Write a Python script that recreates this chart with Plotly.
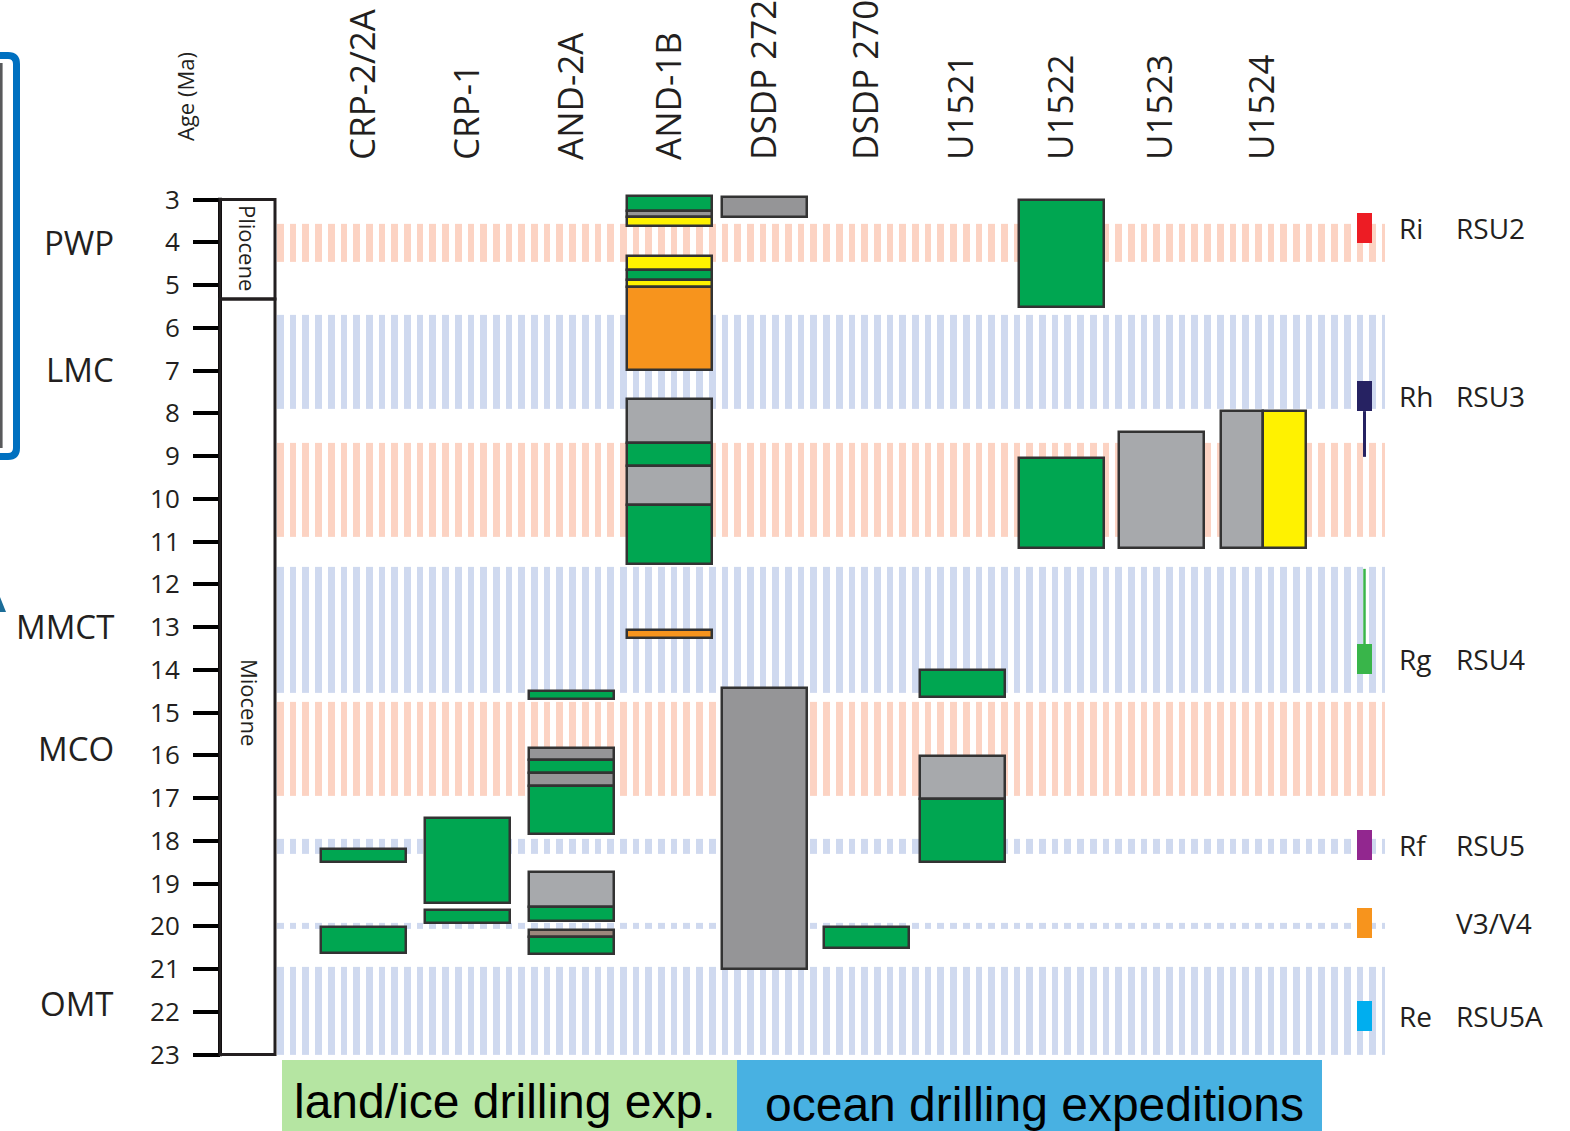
import numpy as np
import plotly.graph_objects as go

W, H = 1570, 1131

# ---------------------------------------------------------------- data
sites = ["CRP-2/2A", "CRP-1", "AND-2A", "AND-1B", "DSDP 272",
         "DSDP 270", "U1521", "U1522", "U1523", "U1524"]

# recovered intervals per site (ages in Ma) and their facies class
iv_site = (["CRP-2/2A"] * 2 + ["CRP-1"] * 2 + ["AND-2A"] * 9 + ["AND-1B"] * 12
           + ["DSDP 272"] * 2 + ["DSDP 270"] + ["U1521"] * 3 + ["U1522"] * 2
           + ["U1523"] + ["U1524"] * 2)
iv_top = [18.20, 20.02,
          17.46, 19.61,
          14.50, 15.83, 16.11, 16.41, 16.72, 18.72, 19.56, 20.08, 20.24,
          2.92, 3.26, 3.42, 4.33, 4.64, 4.89, 5.05, 7.67, 8.70, 9.24, 10.15, 13.07,
          2.95, 14.43,
          20.01,
          14.01, 16.02, 17.03,
          3.01, 9.05,
          8.44,
          7.95, 7.95]
iv_base = [18.50, 20.63,
           19.45, 19.93,
           14.69, 16.11, 16.41, 16.72, 17.84, 19.56, 19.87, 20.24, 20.66,
           3.26, 3.42, 3.62, 4.64, 4.89, 5.05, 6.99, 8.70, 9.24, 10.15, 11.53, 13.25,
           3.40, 21.01,
           20.52,
           14.64, 17.03, 18.49,
           5.51, 11.15,
           11.15,
           11.15, 11.15]
iv_facies = ["green", "green",
             "green", "green",
             "green", "dgrey", "green", "dgrey", "green", "grey", "green", "brown", "green",
             "green", "dgrey", "yellow", "yellow", "green", "yellow", "orange",
             "grey", "green", "grey", "green", "orange",
             "dgrey", "dgrey",
             "green",
             "green", "grey", "green",
             "green", "green",
             "grey",
             "grey", "yellow"]

# warm (pink) and cool (blue) climate intervals, Ma
band_top = [3.57, 5.70, 8.70, 11.60, 14.75, 17.95, 19.92, 20.94]
band_base = [4.46, 7.90, 10.90, 14.55, 16.95, 18.31, 20.06, 23.00]
band_kind = ["warm", "cool", "warm", "cool", "warm", "cool", "cool", "cool"]

# climate events on the left margin
event_name = ["PWP", "LMC", "MMCT", "MCO", "OMT"]
event_age = [4.0, 6.97, 12.98, 15.84, 21.8]

# seismic reflectors / units on the right margin
refl_name = ["Ri", "Rh", "Rg", "Rf", "", "Re"]
refl_unit = ["RSU2", "RSU3", "RSU4", "RSU5", "V3/V4", "RSU5A"]
refl_age = [3.67, 7.60, 13.75, 18.10, 19.93, 22.11]
refl_span_from = [None, 7.95, 11.64, None, None, None]
refl_span_to = [None, 9.02, 13.40, None, None, None]

epoch_name = ["Pliocene", "Miocene"]
epoch_top = [3.0, 5.33]
epoch_base = [5.33, 23.0]

age_ticks = list(range(3, 24))

# ---------------------------------------------------------------- styles
FACIES_COLOR = {"green": "#00a651", "grey": "#a7a9ac", "dgrey": "#959597",
                "yellow": "#fff200", "orange": "#f7941d", "brown": "#9b877c"}
REFL_COLOR = ["#ed1c24", "#262262", "#39b54a", "#92278f", "#f7941d", "#00aeef"]
WARM, COOL = "#fcd3c3", "#cfd9ef"
TXT = "#231f20"
FONT = "Open Sans"

# x axis is laid out in page pixels; column centres
COL_X = [363.5, 467.5, 571.5, 669.5, 764.5, 866.5, 962, 1061.5, 1161, 1263]
COL_W = 85
REFL_X, REFL_W, REFL_H = 1364.5, 15, 0.70
AXIS_X, TICK_LEN, EPOCH_X1 = 220, 27, 275

# age axis mapping (tick 3 at y=199.5 px, 42.75 px per Ma)
PX0, PPM = 199.5, 42.75
Y_TOP = 3 - PX0 / PPM
Y_BOT = 3 + (H - PX0) / PPM

fig = go.Figure()

# ---------------------------------------------------------------- hatched climate bands
s0, s1, period, sw = 277.0, 1385.0, 12.7, 6.7
xe = []
for s in np.arange(s0, s1, period):
    if s >= s1 - 0.5:
        break
    xe += [s, min(s + sw, s1)]
ncol = len(xe) - 1
ye, zrows = [], []
for i, (t, b, k) in enumerate(zip(band_top, band_base, band_kind)):
    if i > 0:
        zrows.append([None] * ncol)  # gap between bands
    ye += [t, b] if i == 0 else [b]
    if i > 0:
        ye.insert(len(ye) - 1, t)
    v = 0 if k == "warm" else 1
    zrows.append([v if c % 2 == 0 else None for c in range(ncol)])
fig.add_trace(go.Heatmap(x=xe, y=ye, z=zrows, zmin=0, zmax=1,
                         colorscale=[[0, WARM], [1, COOL]], showscale=False,
                         hoverinfo="skip"))

# ---------------------------------------------------------------- cored intervals
bx, bw, bb, bh, bc = [], [], [], [], []
groups = {}
for i, (s, t, b) in enumerate(zip(iv_site, iv_top, iv_base)):
    groups.setdefault((s, t, b), []).append(i)
for (s, t, b), idx in groups.items():
    n = len(idx)
    cx = COL_X[sites.index(s)]
    for j, i in enumerate(idx):
        w = COL_W / n
        bx.append(cx - COL_W / 2 + w * (j + 0.5))
        bw.append(w)
        bb.append(t)
        bh.append(b - t)
        bc.append(FACIES_COLOR[iv_facies[i]])
fig.add_trace(go.Bar(x=bx, y=bh, base=bb, width=bw,
                     marker=dict(color=bc, line=dict(color="#333333", width=2.5)),
                     hoverinfo="skip"))

# ---------------------------------------------------------------- reflector markers
for k in range(len(refl_name)):
    if refl_span_from[k] is not None:
        fig.add_trace(go.Scatter(x=[REFL_X, REFL_X],
                                 y=[refl_span_from[k], refl_span_to[k]],
                                 mode="lines", hoverinfo="skip",
                                 line=dict(color=REFL_COLOR[k], width=3 if k == 1 else 2.5)))
fig.add_trace(go.Bar(x=[REFL_X] * len(refl_age), y=[REFL_H] * len(refl_age),
                     base=[a - REFL_H / 2 for a in refl_age], width=REFL_W,
                     marker=dict(color=REFL_COLOR, line=dict(width=0)),
                     hoverinfo="skip"))

# pixel-space helper axis for page decorations
fig.add_trace(go.Scatter(x=[None], y=[None], yaxis="y2", hoverinfo="skip"))

shapes = []
# age axis spine
shapes.append(dict(type="line", xref="x", yref="y", x0=AXIS_X, x1=AXIS_X,
                   y0=epoch_top[0] - 0.04, y1=epoch_base[-1] + 0.04,
                   line=dict(color="black", width=4)))
# epoch boxes
for t, b in zip(epoch_top, epoch_base):
    shapes.append(dict(type="rect", xref="x", yref="y", x0=AXIS_X, x1=EPOCH_X1,
                       y0=t, y1=b, line=dict(color="#231f20", width=3)))
# bottom group bars
shapes.append(dict(type="rect", xref="x", yref="y2", x0=282, x1=737, y0=1060, y1=H + 5,
                   fillcolor="#b5e5a2", line=dict(width=0), layer="below"))
shapes.append(dict(type="rect", xref="x", yref="y2", x0=737, x1=1322, y0=1060, y1=H + 5,
                   fillcolor="#48b1e2", line=dict(width=0), layer="below"))
# framed panel edge on the far left
shapes.append(dict(type="path", xref="x", yref="y2",
                   path="M -20,55.5 H 8 Q 16.5,55.5 16.5,64 V 448 Q 16.5,456.5 8,456.5 H -20",
                   line=dict(color="#0070c0", width=7)))
shapes.append(dict(type="line", xref="x", yref="y2", x0=1.3, x1=1.3, y0=63, y1=448,
                   line=dict(color="#58595b", width=2.6)))
shapes.append(dict(type="path", xref="x", yref="y2", path="M 0,597 L 6,612 L 0,612 Z",
                   fillcolor="#1c6d98", line=dict(width=0)))

ann = []
for name, age in zip(event_name, event_age):
    ann.append(dict(x=116, y=age, xref="x", yref="y", text=name, showarrow=False,
                    xanchor="right", yanchor="middle",
                    font=dict(family=FONT, size=33, color=TXT)))
for name, unit, age in zip(refl_name, refl_unit, refl_age):
    if name:
        ann.append(dict(x=1397, y=age, xref="x", yref="y", text=name, showarrow=False,
                        xanchor="left", yanchor="middle",
                        font=dict(family=FONT, size=28, color=TXT)))
    ann.append(dict(x=1454, y=age, xref="x", yref="y", text=unit, showarrow=False,
                    xanchor="left", yanchor="middle",
                    font=dict(family=FONT, size=28, color=TXT)))
ann.append(dict(x=185, y=97, xref="x", yref="y2", text="Age (Ma)", showarrow=False,
                textangle=-90, font=dict(family=FONT, size=22, color=TXT)))
ann.append(dict(x=248, y=248, xref="x", yref="y2", text=epoch_name[0], showarrow=False,
                textangle=90, font=dict(family=FONT, size=22, color=TXT)))
ann.append(dict(x=250, y=702, xref="x", yref="y2", text=epoch_name[1], showarrow=False,
                textangle=90, font=dict(family=FONT, size=22, color=TXT)))
ann.append(dict(x=292, y=1101, xref="x", yref="y2", text="land/ice drilling exp.",
                showarrow=False, xanchor="left", yanchor="middle",
                font=dict(family="Liberation Sans", size=48, color="black")))
ann.append(dict(x=763, y=1104, xref="x", yref="y2", text="ocean drilling expeditions",
                showarrow=False, xanchor="left", yanchor="middle",
                font=dict(family="Liberation Sans", size=48, color="black")))

fig.update_layout(
    width=W, height=H, margin=dict(l=0, r=0, t=0, b=0), autosize=False,
    paper_bgcolor="white", plot_bgcolor="white", showlegend=False,
    barmode="overlay", bargap=0,
    xaxis=dict(range=[0, W], side="top", anchor="free", position=1 - 160 / H,
               tickvals=COL_X, ticktext=sites, tickangle=-90, ticks="",
               showgrid=False, zeroline=False, showline=False, fixedrange=True,
               tickfont=dict(family=FONT, size=35, color=TXT)),
    yaxis=dict(range=[Y_BOT, Y_TOP], anchor="free", position=AXIS_X / W,
               tickvals=age_ticks, ticks="outside", ticklen=TICK_LEN, tickwidth=4,
               tickcolor="black", showgrid=False, zeroline=False, showline=False,
               ticklabelstandoff=8, fixedrange=True,
               tickfont=dict(family=FONT, size=26, color=TXT)),
    yaxis2=dict(range=[H, 0], overlaying="y", anchor="x", visible=False, fixedrange=True),
    shapes=shapes, annotations=ann,
)

fig.write_html("out.html")
